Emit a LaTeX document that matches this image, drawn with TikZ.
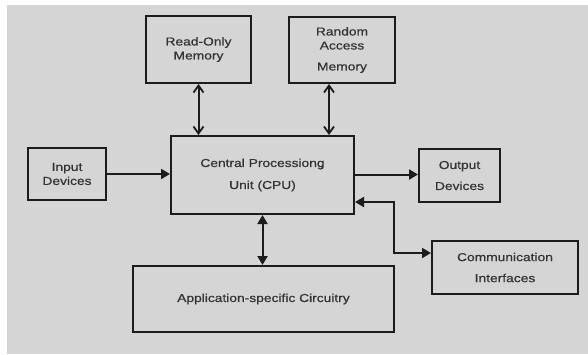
\documentclass[tikz,border=0pt]{standalone}
\usepackage{fontspec}
\setmainfont{Liberation Sans}[FakeStretch=1.2,FakeBold=0.6]
\usetikzlibrary{arrows.meta}
\definecolor{paper}{HTML}{D5D5D5}
\definecolor{ink}{HTML}{1C1C1C}
\tikzset{
	unit/.style 2 args={draw=ink,line width=2pt,inner sep=0pt,align=center,text=ink!90,
		font=\fontsize{11.5}{14}\selectfont,minimum width=#1,minimum height=#2},
	link/.style={draw=ink,line width=2pt},
	bus/.style={link,{Straight Barb[length=7pt,width=10pt,line width=1.8pt]}-{Straight Barb[length=7pt,width=10pt,line width=1.8pt]}},
	feed/.style={link,-{Triangle[length=9pt,width=10pt]}},
	both/.style={link,{Triangle[length=9pt,width=10pt]}-{Triangle[length=9pt,width=10pt]}}
}

\begin{document}
\begin{tikzpicture}[x=1pt,y=-1pt]
	\useasboundingbox (0,0) rectangle (588,354);
	\fill[paper] (7,5) rectangle (588,354);

	\node [unit={105pt}{67pt}] (rom) at (198.5,49.5) {Read-Only\\Memory};
	\node [unit={106pt}{66pt}] (ram) at (342,50) {Random\\Access\\[7pt]Memory};
	\node [unit={183pt}{78pt}] (cpu) at (262.5,175) {Central Processiong\\[8pt]Unit (CPU)};
	\node [unit={78pt}{52pt}] (inp) at (67,174) {Input\\Devices};
	\node [unit={81pt}{53pt}] (out) at (459.5,175.5) {Output\\[7pt]Devices};
	\node [unit={146pt}{53pt}] (com) at (505,267.5) {Communication\\[7pt]Interfaces};
	\node [unit={261pt}{66pt}] (app) at (263.5,299) {Application-specific Circuitry};

	\draw [bus] (rom.south) -- (rom.south |- cpu.north);
	\draw [bus] ([xshift=-13pt]ram.south) -- ([xshift=-13pt]ram.south |- cpu.north);
	\draw [feed] (inp.east) -- (inp.east -| cpu.west);
	\draw [feed] ([yshift=1pt]out.west -| cpu.east) -- ([yshift=1pt]out.west);
	\draw [both] ([yshift=-27pt]cpu.east) -| (394,253) -- ([yshift=14.5pt]com.west);
	\draw [both] (cpu.south) -- (cpu.south |- app.north);
\end{tikzpicture}
\end{document}
